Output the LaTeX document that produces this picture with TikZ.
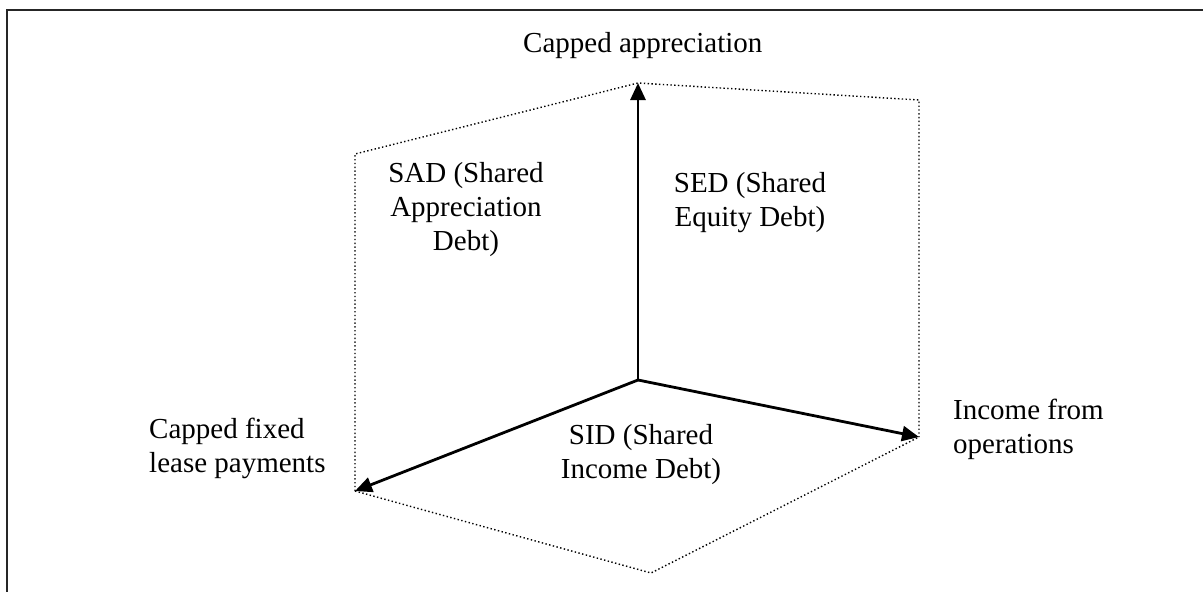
\documentclass[tikz,border=0pt]{standalone}
\usepackage{fontspec}
\setmainfont{Liberation Serif}
\usetikzlibrary{arrows.meta}
\tikzset{
  axis/.style={line width=2.8pt, -{Triangle[length=17pt,width=15pt]}},
  guide/.style={line width=1.4pt, dash pattern=on 1.4pt off 2.4pt},
  frameline/.style={line width=2pt, draw=black!85},
  lbl/.style={inner sep=0pt, font=\fontsize{29}{34}\selectfont},
}
\begin{document}
\begin{tikzpicture}[x=1pt,y=-1pt]
  \useasboundingbox (0,0) rectangle (1203,592);
  % page frame (left and top edges)
  \draw[frameline] (7,592) -- (7,10) -- (1203,10);

  % corners of the three planes
  \coordinate (O)  at (638,380);
  \coordinate (up) at (638,83);
  \coordinate (lt) at (355,491);
  \coordinate (rt) at (919,437);
  \coordinate (ltop) at (355,154);
  \coordinate (rtop) at (919,100);
  \coordinate (bot) at (651,573);

  % dotted plane outlines
  \draw[guide] (lt) -- (ltop) -- (up) -- (rtop) -- (rt);
  \draw[guide] (lt) -- (bot) -- (rt);

  % axes
  \draw[axis] (O) -- (up);
  \draw[axis] (O) -- (lt);
  \draw[axis] (O) -- (rt);

  % axis labels
  \node[lbl, anchor=base west] (capapp) at (523,52) {Capped appreciation};
  \node[lbl, anchor=base west, align=left] (lease) at (149,472) {Capped fixed\\lease payments};
  \node[lbl, anchor=base west, align=left] (income) at (953,453) {Income from\\operations};

  % plane labels
  \node[lbl, anchor=base, align=center] (sad) at (466,250) {SAD (Shared\\Appreciation\\Debt)};
  \node[lbl, anchor=base, align=center] (sed) at (750,226) {SED (Shared\\Equity Debt)};
  \node[lbl, anchor=base, align=center] (sid) at (641,478) {SID (Shared\\Income Debt)};
\end{tikzpicture}
\end{document}
